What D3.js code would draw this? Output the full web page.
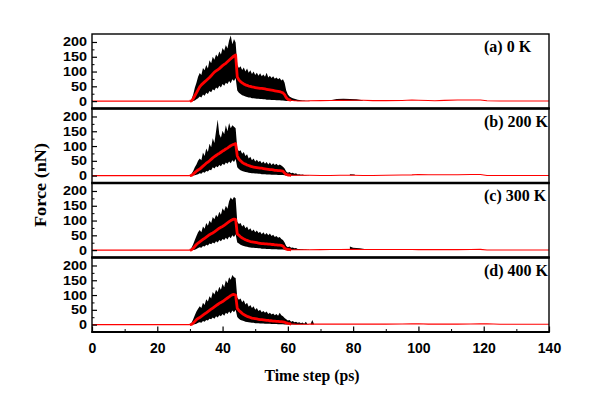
<!DOCTYPE html>
<html><head><meta charset="utf-8">
<script src="https://cdn.jsdelivr.net/npm/d3@7"></script>
<style>body{margin:0;background:#fff} svg{display:block}</style>
</head><body>
<svg id="chart" width="600" height="415"></svg>
<script>
// ---------- data ----------
const panelLabels = ["(a) 0 K", "(b) 200 K", "(c) 300 K", "(d) 400 K"];
const xTicks = [0, 20, 40, 60, 80, 100, 120, 140];
const xMinorTicks = [10, 30, 50, 70, 90, 110, 130];
const yTicks = [0, 50, 100, 150, 200];
const yMinorTicks = [25, 75, 125, 175];

// main sampled window: t = 29, 29.5, ... 66.5 (76 samples)
const gridStart = 29, gridStep = 0.5;

const meanA = [0,0,0,1,8,18,28,38,48,55, 60,65,70,75,80,86,92,98,102,106, 110,115,120,124,128,133,138,143,148,153,
  156,82,72,66,62,58,55,53,51,50, 48,47,46,45,44,43,43,42,41,40, 39,38,37,36,35,34,33,32,30,28,
  22,12,6,4,3,2,1,1,0.5,0.5, 0.5,0.5,0.5,0.5,0.5,0.5];
const upperA = [0,0,1,6,22,45,62,82,95,88, 112,104,122,110,138,128,150,140,158,150, 168,158,180,170,190,178,205,222,192,210,
  198,122,112,118,105,114,100,110,96,104, 92,100,88,96,86,94,84,90,82,96, 80,86,78,84,76,80,74,78,70,74,
  62,36,22,16,12,10,8,6,5,4, 3,2,2,1,1,1];
const lowerA = [0,0,0,0,0,2,6,10,16,12, 22,18,28,24,34,30,40,36,46,42, 52,46,58,52,62,58,68,60,74,68,
  78,36,28,24,20,18,16,14,12,12, 10,10,9,8,8,7,7,6,6,5, 5,5,4,4,4,3,3,3,2,2,
  1,0,0,0,0,0,0,0,0,0, 0,0,0,0,0,0];

const meanB = [0,0,0,1,5,10,15,19,22,27, 32,37,42,46,50,55,60,64,68,72, 75,79,83,86,90,93,97,101,104,106,
  108,67,56,50,45,41,39,36,34,32, 30,29,28,27,26,25,25,24,23,22, 21,20,20,19,18,18,17,17,16,15,
  9,4,2,1.5,1,1,1,1,1,1, 1,1,1,1,1,1];
const upperB = [0,0,1,6,16,28,38,50,58,52, 78,66,92,80,108,96,126,110,150,190, 140,128,152,140,170,150,178,160,170,165,
  160,92,82,86,74,80,66,72,58,64, 52,58,48,54,46,50,42,48,40,46, 38,44,36,42,36,40,34,38,34,30,
  24,14,10,12,8,10,6,8,4,5, 3,4,2,2,1,1];
const lowerB = [0,0,0,0,0,1,3,5,8,6, 12,10,16,14,20,18,28,24,32,28, 36,32,40,36,44,40,48,42,52,46,
  56,28,22,18,16,14,12,11,10,9, 8,8,7,7,6,6,5,5,5,4, 4,4,3,3,3,3,2,2,2,2,
  1,0,0,0,0,0,0,0,0,0, 0,0,0,0,0,0];

const meanC = [0,0,0,1,6,13,19,24,28,32, 36,40,44,48,52,55,58,62,66,70, 74,77,80,84,88,92,96,100,103,105,
  104,55,50,45,41,38,35,33,31,29, 28,27,26,25,24,23,22,22,21,21, 20,20,19,19,18,18,17,17,16,14,
  7,3,2,1.5,1,1,1,1,1,1, 1,1,1,1,1,1];
const upperC = [0,0,1,8,20,34,48,60,68,60, 80,72,92,82,100,92,112,104,120,112, 130,120,142,132,150,140,165,178,170,180,
  175,96,88,92,80,86,74,80,68,74, 64,70,60,66,58,62,54,60,52,58, 50,56,48,52,44,48,42,44,38,34,
  26,14,10,12,8,9,6,7,4,4, 3,3,2,2,1,1];
const lowerC = [0,0,0,0,0,1,4,7,10,8, 14,12,18,16,22,20,26,22,30,26, 34,30,38,34,42,36,46,40,50,44,
  54,26,22,18,16,14,12,11,10,9, 8,8,7,7,6,6,5,5,5,4, 4,4,3,3,3,3,2,2,2,2,
  1,0,0,0,0,0,0,0,0,0, 0,0,0,0,0,0];

const meanD = [0,0,0,1,5,11,17,21,24,28, 32,36,40,44,48,52,56,60,64,68, 72,75,78,82,86,90,94,98,101,102,
  100,55,48,43,38,34,31,28,26,24, 22,21,20,19,18,17,17,16,15,14, 14,13,13,12,12,11,11,10,10,9,
  8,6,4,3,2,2,1.5,1,1,1, 1,1,1,1,1,1];
const upperD = [0,0,1,6,18,32,44,54,62,56, 74,66,86,78,96,88,110,102,118,110, 128,118,138,126,150,140,160,152,168,160,
  158,92,84,88,76,82,68,74,60,66, 56,62,50,56,46,50,42,46,40,44, 36,40,34,38,32,36,30,40,32,28,
  22,18,14,16,10,12,8,10,6,8, 5,7,3,10,2,1];
const lowerD = [0,0,0,0,0,1,3,6,8,6, 12,10,16,14,20,18,24,20,28,24, 32,28,36,30,40,36,44,38,48,42,
  50,26,20,16,14,12,10,9,8,7, 6,6,5,5,5,4,4,4,3,3, 3,3,2,2,2,2,1,1,1,1,
  0,0,0,0,0,0,0,0,0,0, 0,0,0,0,0,0];

// long tail after the main window
const tailTime = [66.5, 70, 73, 76, 80, 83, 86, 90, 95, 98, 100, 103, 105, 108, 112, 116, 119, 121, 125, 130, 140];
const tailA = [1, 1.5, 2, 2.5, 3, 3, 1.5, 1.5, 2, 4, 3, 2, 1, 2.5, 4, 3.5, 3.5, 1, 0.5, 0.5, 0.5];
const tailB = [1, 0.5, 0.5, 1, 1, 0.5, 0.5, 1, 2, 2.5, 3.5, 3, 3, 3, 3, 3.5, 4, 0.5, 0.5, 0.5, 0.5];
const tailC = [1, 1.5, 2, 2, 2.5, 2, 2, 2, 2, 2, 1.5, 1.5, 1.5, 1.5, 1.5, 2, 2.5, 0.5, 0.5, 0.5, 0.5];
const tailD = [2, 1.5, 1.5, 1.5, 1.5, 1.5, 1.5, 1.5, 2, 2.5, 3, 1.5, 1.5, 1.5, 1.5, 2, 2.5, 3, 1, 1, 1];

// small late force bursts (black)
const bumpTimeA = [73.5, 75, 77, 79, 81, 83];
const bumpUpperA = [4, 7, 8, 7, 6, 3];
const bumpLowerA = [1, 1, 1, 1, 1, 1];
const bumpTimeB = [79, 80.5];
const bumpUpperB = [5, 4];
const bumpLowerB = [1, 1];
const bumpTimeC = [79, 80, 82, 84];
const bumpUpperC = [12, 8, 6, 3];
const bumpLowerC = [2, 2, 2, 2];
const bumpTimeD = [67, 67.5, 68];
const bumpUpperD = [3, 16, 2];
const bumpLowerD = [0, 0, 0];

const panels = [
  {label: panelLabels[0], mean: meanA, upper: upperA, lower: lowerA, tail: tailA, bt: bumpTimeA, bu: bumpUpperA, bl: bumpLowerA},
  {label: panelLabels[1], mean: meanB, upper: upperB, lower: lowerB, tail: tailB, bt: bumpTimeB, bu: bumpUpperB, bl: bumpLowerB},
  {label: panelLabels[2], mean: meanC, upper: upperC, lower: lowerC, tail: tailC, bt: bumpTimeC, bu: bumpUpperC, bl: bumpLowerC},
  {label: panelLabels[3], mean: meanD, upper: upperD, lower: lowerD, tail: tailD, bt: bumpTimeD, bu: bumpUpperD, bl: bumpLowerD}
];

// ---------- layout ----------
const svg = d3.select("#chart");
const left = 92, right = 549, top0 = 34, ph = 74.5;
const x = d3.scaleLinear().domain([0, 140]).range([left, right]);
const sansFont = "'Liberation Sans', Arial, sans-serif";
const serifFont = "'Liberation Serif', 'Times New Roman', serif";

svg.append("defs").selectAll("clipPath").data(panels).join("clipPath")
  .attr("id", (d, i) => "clip" + i)
  .append("rect").attr("x", left).attr("y", (d, i) => top0 + i * ph)
  .attr("width", right - left).attr("height", ph);

panels.forEach((p, i) => {
  const top = top0 + i * ph;
  const y = d3.scaleLinear().domain([-25, 227]).range([top + ph, top]);
  const g = svg.append("g");
  const plot = g.append("g").attr("clip-path", `url(#clip${i})`);

  const grid = p.mean.map((m, k) => ({t: gridStart + k * gridStep, m, hi: p.upper[k], lo: p.lower[k]}));
  const area = d3.area().x(d => x(d.t)).y0(d => y(d.lo)).y1(d => y(d.hi));
  plot.append("path").datum(grid).attr("d", area).attr("fill", "#000");

  const bump = p.bt.map((t, k) => ({t, hi: p.bu[k], lo: p.bl[k]}));
  plot.append("path").datum(bump).attr("d", area).attr("fill", "#000");

  const line = d3.line().x(d => x(d.t)).y(d => y(d.m));
  const full = [{t: 0, m: 0}].concat(grid.map(d => ({t: d.t, m: d.m})),
    tailTime.map((t, k) => ({t, m: p.tail[k]})));
  plot.append("path").datum(full).attr("d", line)
    .attr("fill", "none").attr("stroke", "#ff0000").attr("stroke-width", 1.1);
  const active = grid.filter(d => d.t >= 30 && d.t <= 61);
  plot.append("path").datum(active).attr("d", line)
    .attr("fill", "none").attr("stroke", "#ff0000").attr("stroke-width", 2.8)
    .attr("stroke-linejoin", "round");

  // y axis (inward ticks)
  const ya = g.append("g").attr("transform", `translate(${left},0)`)
    .call(d3.axisLeft(y).tickValues(yTicks).tickSize(-5).tickPadding(5).tickFormat(d3.format("d")));
  ya.select(".domain").remove();
  ya.selectAll("line").attr("stroke", "#000").attr("stroke-width", 1.2);
  ya.selectAll("text").attr("font-family", sansFont).attr("font-weight", "bold")
    .attr("font-size", 12.5).attr("fill", "#000")
    .attr("textLength", d => String(d).length * 8).attr("lengthAdjust", "spacingAndGlyphs");
  const ym = g.append("g").attr("transform", `translate(${left},0)`)
    .call(d3.axisLeft(y).tickValues(yMinorTicks).tickSize(-2.5).tickFormat(""));
  ym.select(".domain").remove();
  ym.selectAll("line").attr("stroke", "#000").attr("stroke-width", 1);

  // frame
  g.append("rect").attr("x", left).attr("y", top).attr("width", right - left).attr("height", ph)
    .attr("fill", "none").attr("stroke", "#000").attr("stroke-width", 1.4);

  // panel label
  g.append("text").attr("x", 484).attr("y", top + 18).text(p.label)
    .attr("font-family", serifFont).attr("font-weight", "bold").attr("font-size", 16).attr("fill", "#000");

  if (i === panels.length - 1) {
    const xa = g.append("g").attr("transform", `translate(0,${top + ph})`)
      .call(d3.axisBottom(x).tickValues(xTicks).tickSize(-5.5).tickPadding(11).tickFormat(d3.format("d")));
    xa.select(".domain").remove();
    xa.selectAll("line").attr("stroke", "#000").attr("stroke-width", 1.2);
    xa.selectAll("text").attr("font-family", sansFont).attr("font-weight", "bold")
      .attr("font-size", 14).attr("fill", "#000");
    const xm = g.append("g").attr("transform", `translate(0,${top + ph})`)
      .call(d3.axisBottom(x).tickValues(xMinorTicks).tickSize(-3).tickFormat(""));
    xm.select(".domain").remove();
    xm.selectAll("line").attr("stroke", "#000").attr("stroke-width", 1);
  }
});

// thick separators and bottom edge
const seps = d3.range(1, panels.length).map(i => top0 + i * ph);
svg.selectAll("line.sep").data(seps).join("line").attr("class", "sep")
  .attr("x1", left - 0.7).attr("x2", right + 0.7).attr("y1", d => d).attr("y2", d => d)
  .attr("stroke", "#000").attr("stroke-width", 2.6);
svg.append("line").attr("x1", left - 0.7).attr("x2", right + 0.7)
  .attr("y1", top0 + 4 * ph).attr("y2", top0 + 4 * ph).attr("stroke", "#000").attr("stroke-width", 2.2);

// axis titles
svg.append("text").attr("transform", "translate(46,185) rotate(-90)")
  .attr("text-anchor", "middle").text("Force (nN)")
  .attr("font-family", serifFont).attr("font-weight", "bold").attr("font-size", 17)
  .attr("textLength", 84).attr("lengthAdjust", "spacingAndGlyphs");
svg.append("text").attr("x", 312).attr("y", 381).attr("text-anchor", "middle").text("Time step (ps)")
  .attr("font-family", serifFont).attr("font-weight", "bold").attr("font-size", 17)
  .attr("textLength", 95).attr("lengthAdjust", "spacingAndGlyphs");
</script>
</body></html>
